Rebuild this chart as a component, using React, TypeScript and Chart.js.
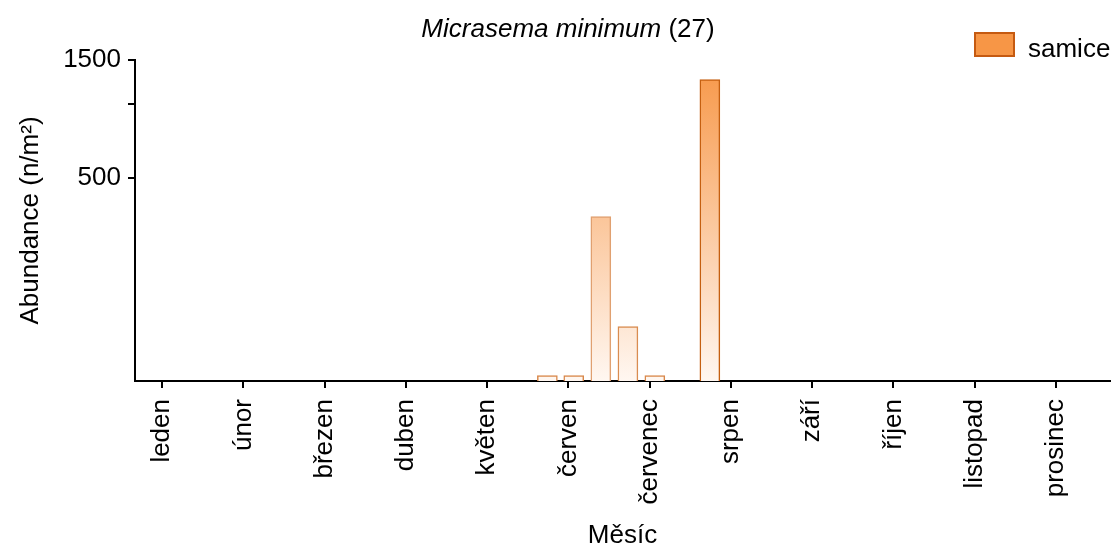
import React, { useEffect, useRef } from 'react';
import { Chart, registerables } from 'chart.js';

Chart.register(...registerables);

const monthLabels = ['leden', 'únor', 'březen', 'duben', 'květen', 'červen', 'červenec', 'srpen', 'září', 'říjen', 'listopad', 'prosinec'];
const daysInMonth = [31, 28, 31, 30, 31, 30, 31, 31, 30, 31, 30, 31];
const sampleMonth = [4, 5, 5, 5, 6, 6];
const sampleDay = [24, 3, 13, 23, 3, 24];
const abundance = [80, 80, 350, 126, 80, 1250];
const seriesLabel = 'samice';
const titleItalic = 'Micrasema minimum';
const titleRest = ' (27)';
const yTickValues = [500, 1000, 1500];
const yTickLabels = ['500', '', '1500'];
const xTitle = 'Měsíc';
const yTitle = 'Abundance (n/m²)';

const FONT_FAMILY = '"Liberation Sans", Arial, Helvetica, sans-serif';

const overlayPlugin = {
  id: 'overlay',
  afterDraw(chart: any) {
    const c = chart.ctx as CanvasRenderingContext2D;
    c.save();
    c.fillStyle = '#000';
    c.textBaseline = 'alphabetic';
    c.textAlign = 'left';
    c.font = `italic 26px ${FONT_FAMILY}`;
    const w1 = c.measureText(titleItalic).width;
    c.font = `26px ${FONT_FAMILY}`;
    const w2 = c.measureText(titleRest).width;
    const x0 = 568 - (w1 + w2) / 2;
    c.font = `italic 26px ${FONT_FAMILY}`;
    c.fillText(titleItalic, x0, 37);
    c.font = `26px ${FONT_FAMILY}`;
    c.fillText(titleRest, x0 + w1, 37);

    // legend
    const ds = chart.data.datasets[0];
    c.fillStyle = '#f79646';
    c.fillRect(975, 33, 39, 23);
    c.strokeStyle = '#c55a11';
    c.lineWidth = 2;
    c.strokeRect(975, 33, 39, 23);
    c.fillStyle = '#000';
    c.font = `26px ${FONT_FAMILY}`;
    c.fillText(ds.label, 1028, 57);
    c.restore();
  },
};

export default function App() {
  const ref = useRef<HTMLCanvasElement | null>(null);

  useEffect(() => {
    if (!ref.current) return;
    const font = { family: FONT_FAMILY, size: 26 };
    const points = sampleMonth.map((m, i) => ({
      x: m + (sampleDay[i] - 1) / daysInMonth[m],
      y: abundance[i],
    }));
    const chart = new Chart(ref.current, {
      type: 'bar',
      data: {
        datasets: [
          {
            label: seriesLabel,
            data: points as any,
            barThickness: 20,
            borderWidth: 1.5,
            borderColor: ['#d8874a', '#d8874a', '#e0a070', '#d98c50', '#d8874a', '#c55f10'],
            backgroundColor: (ctx: any) => {
              const { chart: ch } = ctx;
              const area = ch.chartArea;
              if (!area) return '#f79646';
              const g = ch.ctx.createLinearGradient(0, area.bottom, 0, area.top);
              g.addColorStop(0, '#fff7f1');
              g.addColorStop(1, '#f79646');
              return g;
            },
          },
        ],
      },
      options: {
        responsive: false,
        animation: false,
        layout: { padding: { top: 60, right: 2, left: 0, bottom: 0 } },
        plugins: {
          legend: { display: false },
          title: { display: false },
          tooltip: { enabled: false },
        },
        scales: {
          x: {
            type: 'linear',
            offset: false,
            min: -1 / 3,
            max: 11 + 2 / 3,
            afterBuildTicks: (s: any) => {
              s.ticks = monthLabels.map((_, i) => ({ value: i }));
            },
            afterFit: (s: any) => {
              s.height = 166;
            },
            ticks: {
              callback: (_v: any, i: number) => monthLabels[i],
              minRotation: 90,
              maxRotation: 90,
              autoSkip: false,
              padding: 11,
              font,
              color: '#000',
            },
            grid: { display: true, offset: false, drawOnChartArea: false, drawTicks: true, tickLength: 7, color: '#000', lineWidth: 2 },
            border: { display: true, color: '#000', width: 2 },
            title: { display: true, text: xTitle, font, color: '#000', padding: { top: 0, bottom: -4 } },
          },
          y: {
            type: 'logarithmic',
            min: 76,
            max: 1500,
            afterBuildTicks: (s: any) => {
              s.ticks = yTickValues.map((v) => ({ value: v }));
            },
            afterFit: (s: any) => {
              s.width = 135;
            },
            ticks: {
              callback: (_v: any, i: number) => yTickLabels[i] ?? '',
              autoSkip: false,
              padding: 7,
              font,
              color: '#000',
            },
            grid: { display: true, drawOnChartArea: false, drawTicks: true, tickLength: 7, color: '#000', lineWidth: 2 },
            border: { display: true, color: '#000', width: 2 },
            title: { display: true, text: yTitle, font, color: '#000', padding: { top: 15, bottom: 0 } },
          },
        },
      } as any,
      plugins: [overlayPlugin],
    });
    return () => chart.destroy();
  }, []);

  return (
    <div style={{ position: 'absolute', left: 0, top: 0, width: 1112, height: 547, background: '#fff' }}>
      <canvas ref={ref} width={1112} height={547} style={{ display: 'block' }} />
    </div>
  );
}
